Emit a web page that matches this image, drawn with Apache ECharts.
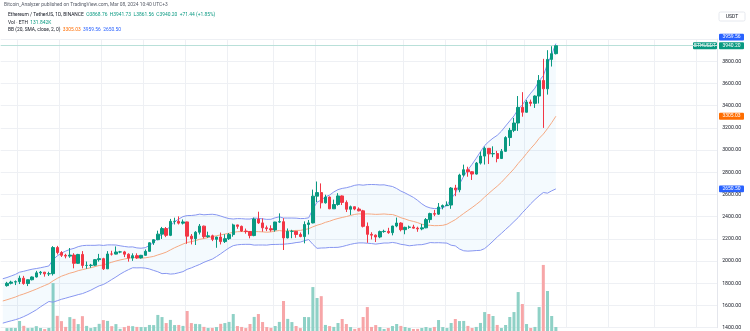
<!DOCTYPE html>
<html><head><meta charset="utf-8">
<script src="https://cdn.jsdelivr.net/npm/echarts@6/dist/echarts.min.js"></script>
<style>html,body{margin:0;padding:0;background:#fff}#c{width:750px;height:331px}</style>
</head><body><div id="c"></div>
<script>
// Categories: first slot (2023-10-28) only carries band values; candles 2023-10-29 .. 2024-03-08; then empty future slots
const monthRanges = [['2023-10',28,31],['2023-11',1,30],['2023-12',1,31],['2024-01',1,31],['2024-02',1,29],['2024-03',1,31],['2024-04',1,15]];
const dates = [];
monthRanges.forEach(([m,a,b])=>{for(let d=a;d<=b;d++)dates.push(m+'-'+String(d).padStart(2,'0'));});

const open = [null,
1779,1800,1811,
1815,1846,1798,1832,1857,1894,1900,1885,1887,2122,2077,2052,2045,2054,1980,2060,1961,1961,1963,2013,2022,1930,2064,2063,2082,2083,2062,2027,2049,2029,
2052,2088,2165,2193,2243,2293,2232,2358,2358,2342,2353,2225,2202,2260,2315,2220,2228,2196,2217,2176,2202,2239,2326,2313,2271,2267,2230,2379,2344,2300,2292,
2281,2352,2355,2209,2268,2268,2240,2221,2330,2344,2585,2617,2525,2577,2471,2510,2587,2529,2467,2490,2469,2453,2313,2241,2234,2217,2266,2268,2256,2316,2343,
2283,2304,2307,2297,2290,2300,2374,2428,2423,2487,2500,2505,2658,2642,2775,2823,2805,2784,2883,2946,3016,2966,2969,2924,2989,3113,3178,3244,3385,
3341,3433,3421,3487,3627,3552,3817,3868.76];
const high = [null,
1813,1823,1826,
1869,1867,1834,1862,1912,1911,1903,1904,2135,2137,2090,2066,2118,2071,2065,2090,1996,1975,2018,2065,2030,2090,2093,2132,2092,2092,2070,2070,2070,2056,
2105,2169,2196,2274,2308,2307,2380,2391,2403,2375,2355,2244,2270,2334,2320,2265,2238,2219,2257,2242,2253,2337,2328,2320,2293,2271,2392,2445,2385,2320,2322,
2354,2430,2387,2294,2282,2270,2258,2358,2370,2644,2717,2700,2598,2582,2554,2612,2592,2547,2500,2490,2484,2462,2348,2260,2240,2275,2283,2300,2318,2392,2350,
2310,2320,2327,2310,2335,2388,2436,2461,2523,2510,2538,2667,2687,2787,2869,2850,2810,2893,2986,3032,3017,3034,2993,3010,3125,3200,3290,3487,3522,
3452,3455,3493,3676,3822,3900,3936,3941.73];
const low = [null,
1770,1790,1784,
1793,1787,1775,1826,1852,1876,1860,1866,1870,2060,2037,2025,2030,1935,1975,1935,1931,1940,1955,1995,1920,1929,2050,2060,2071,2036,1995,2002,2020,2023,
2049,2086,2146,2188,2200,2216,2225,2330,2330,2330,2156,2150,2145,2240,2204,2210,2180,2120,2150,2163,2190,2220,2291,2263,2247,2205,2224,2335,2265,2270,2265,
2265,2345,2100,2205,2206,2210,2215,2160,2240,2340,2532,2474,2518,2468,2471,2499,2505,2442,2416,2458,2448,2303,2165,2195,2172,2206,2255,2246,2232,2305,2268,
2242,2291,2293,2264,2278,2296,2345,2405,2416,2466,2496,2471,2585,2620,2761,2760,2731,2780,2870,2870,2875,2936,2890,2920,2985,3037,3162,3173,3301,
3339,3395,3380,3420,3200,3500,3753,3861.56];
const close = [null,
1800,1811,1815,
1846,1798,1832,1857,1894,1900,1885,1887,2122,2077,2052,2045,2054,1980,2060,1961,1961,1963,2013,2022,1930,2064,2063,2082,2083,2062,2027,2049,2029,2052,
2088,2165,2193,2243,2293,2232,2358,2358,2342,2353,2225,2202,2260,2315,2220,2228,2196,2217,2176,2202,2239,2326,2313,2271,2267,2230,2379,2344,2300,2292,2281,
2352,2355,2209,2268,2268,2240,2221,2330,2344,2585,2617,2525,2577,2471,2510,2587,2529,2467,2490,2469,2453,2313,2241,2234,2217,2266,2268,2256,2316,2343,2283,
2304,2307,2297,2290,2300,2374,2428,2423,2487,2500,2505,2658,2642,2775,2823,2805,2784,2883,2946,3016,2966,2969,2924,2989,3113,3178,3244,3385,3341,
3433,3421,3487,3627,3552,3817,3869,3940.20];
// Volume, thousands of ETH
const volume = [null,
95,102,98,
330,170,96,104,160,99,64,101,1580,500,326,135,458,400,228,490,168,97,130,236,360,333,160,228,70,128,170,160,135,130,
128,200,195,530,460,262,366,196,200,168,660,262,234,226,136,98,101,130,236,262,300,560,164,134,97,232,465,
560,296,130,102,166,300,990,400,295,166,96,462,458,1450,1090,1150,200,162,135,265,396,230,130,68,100,462,790,134,196,130,66,
98,164,232,168,132,100,66,70,100,132,98,134,362,130,100,264,396,328,332,168,100,134,266,625,562,495,200,98,
198,462,625,1285,890,230,100,134,790,2180,1320,495,131.842];
// Bollinger Bands (20, SMA, close, 2)
const bbBasis = [1640.7,1651.7,1663.9,1676.3,1691.7,1704.0,1717.8,1732.7,1747.4,1764.1,
1780.2,1796.2,1822.1,1844.5,1864.0,1877.7,1891.2,1900.8,1913.7,1922.8,
1931.9,1940.0,1950.1,1960.5,1964.7,1978.0,1989.5,2000.8,2010.2,2018.3,
2025.4,2033.5,2028.9,2027.6,2029.4,2035.4,2042.4,2055.5,2067.2,2080.7,
2100.6,2120.3,2136.8,2153.3,2168.1,2175.0,2184.8,2196.5,2203.3,2211.6,
2220.1,2228.5,2235.8,2243.3,2250.9,2258.9,2264.9,2266.3,2265.0,2264.9,
2266.0,2265.3,2263.2,2260.1,2262.9,2270.4,2275.2,2269.9,2272.3,2274.3,
2276.5,2276.7,2284.4,2291.5,2308.8,2323.3,2333.9,2349.2,2359.4,2373.4,
2383.8,2393.1,2401.4,2411.3,2420.7,2425.8,2423.7,2425.3,2423.6,2421.0,
2422.3,2424.7,2421.0,2419.6,2407.5,2390.8,2379.7,2366.2,2357.5,2346.5,
2332.2,2324.4,2322.5,2319.1,2320.0,2322.4,2332.0,2352.8,2373.2,2401.1,
2429.0,2455.8,2482.2,2510.6,2540.7,2577.4,2610.5,2643.6,2674.9,2709.9,
2750.5,2790.7,2831.5,2879.6,2922.3,2969.0,3014.8,3056.2,3105.5,3144.3,
3194.0,3247.2,3305.03];
const bbUpper = [1841,1852,1866,1880,1900,1908,1918,1927,1933,1940,
1948,1956,2014,2047,2072,2090,2105,2115,2130,2139,
2142,2142,2142,2145,2141,2146,2146,2145,2138,2132,
2127,2128,2119,2116,2121,2141,2168,2208,2247,2273,
2319,2354,2379,2401,2410,2411,2415,2423,2417,2420,
2422,2417,2406,2393,2383,2379,2383,2382,2379,2379,
2388,2385,2381,2376,2377,2390,2399,2388,2388,2388,
2387,2383,2384,2390,2467,2531,2550,2579,2595,2623,
2644,2655,2661,2671,2683,2688,2684,2689,2690,2689,
2686,2687,2679,2672,2654,2631,2614,2594,2574,2547,
2516,2492,2479,2473,2474,2480,2502,2563,2609,2693,
2765,2822,2872,2927,2985,3041,3077,3108,3133,3170,
3217,3263,3308,3368,3408,3463,3513,3558,3624,3670,
3776,3861,3959.56];
const bbLower = [1441,1452,1462,1472,1484,1500,1518,1539,1561,1588,
1612,1636,1630,1643,1656,1666,1677,1687,1698,1707,
1722,1738,1758,1777,1789,1810,1834,1857,1882,1904,
1923,1940,1939,1940,1937,1929,1916,1904,1887,1889,
1883,1886,1895,1905,1926,1939,1955,1970,1989,2004,
2018,2041,2066,2093,2119,2139,2147,2150,2151,2151,
2144,2145,2145,2144,2149,2150,2151,2152,2156,2160,
2167,2171,2184,2194,2151,2115,2118,2119,2123,2123,
2124,2131,2141,2151,2159,2164,2164,2161,2158,2153,
2158,2163,2163,2168,2162,2151,2146,2138,2142,2147,
2148,2156,2167,2165,2166,2164,2162,2143,2137,2109,
2093,2090,2092,2095,2097,2113,2145,2180,2217,2250,
2285,2319,2356,2392,2436,2475,2517,2554,2588,2618,
2612,2633,2650.50];
const priceTicks = {min:1400, max:4000, interval:200};
const lastPrice = 3940.20;

const UP = '#089981', DOWN = '#F23645';
const candleData = open.map((o,i)=> o==null ? ['-','-','-','-'] : [o, close[i], low[i], high[i]]);
const volData = volume.map((v,i)=> v==null ? '-' : {value: v, itemStyle:{color: close[i] >= open[i] ? '#8fd1c6' : '#f7a6a8'}});
const bandWidth = bbUpper.map((u,i)=> u - bbLower[i]);

const chart = echarts.init(document.getElementById('c'), null, {renderer:'canvas'});
const gridL = 0.7, gridR = 32.8;
const option = {
  animation: false,
  grid: [
    {left: gridL, right: gridR, top: 39.1, bottom: 3.3},
    {left: gridL, right: gridR, top: 231, bottom: 0}
  ],
  xAxis: [
    {type:'category', data: dates, gridIndex:0, boundaryGap:true,
     axisLine:{show:false}, axisTick:{show:false}, axisLabel:{show:false},
     splitLine:{show:true, lineStyle:{color:'#eef0f4', width:1},
       interval:(idx, val)=>{ const d = +String(val).slice(8); return d===1||d===11||d===21; }}},
    {type:'category', data: dates, gridIndex:1, boundaryGap:true, show:false}
  ],
  yAxis: [
    {type:'value', gridIndex:0, position:'right', min:priceTicks.min, max:priceTicks.max, interval:priceTicks.interval,
     axisLine:{show:true, lineStyle:{color:'#e4e6ec'}}, axisTick:{show:false},
     axisLabel:{show:true, margin:5, color:'#131722', fontSize:5.2, fontFamily:'Roboto, sans-serif',
       showMaxLabel:false, formatter:v=>v.toFixed(2)},
     splitLine:{show:true, lineStyle:{color:'#eef0f4', width:1}}},
    {type:'value', gridIndex:1, min:0, max:3300, show:false, splitLine:{show:false}}
  ],
  series: [
    {name:'vol', type:'bar', xAxisIndex:1, yAxisIndex:1, data: volData, barWidth:'72%', z:1},
    {name:'bbBase', type:'line', data: bbLower, stack:'bb', symbol:'none', lineStyle:{opacity:0}, silent:true, z:2},
    {name:'bbFill', type:'line', data: bandWidth, stack:'bb', symbol:'none', lineStyle:{opacity:0},
     areaStyle:{color:'rgba(33,150,243,0.075)'}, silent:true, z:2},
    {name:'upper', type:'line', data: bbUpper, symbol:'none', lineStyle:{color:'#8796f0', width:1}, z:3},
    {name:'lower', type:'line', data: bbLower, symbol:'none', lineStyle:{color:'#8796f0', width:1}, z:3},
    {name:'basis', type:'line', data: bbBasis, symbol:'none', lineStyle:{color:'#f5a982', width:1}, z:3},
    {name:'lastPrice', type:'line', data: [], symbol:'none', z:4,
     markLine:{silent:true, symbol:['none','none'], label:{show:false},
       lineStyle:{color:'#b9e0d9', type:'solid', width:1, opacity:1},
       emphasis:{disabled:true},
       data:[{yAxis:lastPrice}]}},
    {name:'ETHUSDT', type:'candlestick', data: candleData, barWidth:'70%', z:5,
     itemStyle:{color:UP, color0:DOWN, borderColor:UP, borderColor0:DOWN, borderWidth:1}}
  ]
};
chart.setOption(option);

const py = v => chart.convertToPixel({yAxisIndex:0}, v);
function tag(x, yc, w, h, bg, txt){
  return {type:'group', children:[
    {type:'rect', shape:{x:x, y:yc-h/2, width:w, height:h, r:1}, style:{fill:bg}},
    {type:'text', x:x+w/2, y:yc, style:{text:txt, fill:'#fff', font:'5px Roboto, sans-serif', textAlign:'center', textVerticalAlign:'middle'}}
  ]};
}
const hdr = (x,y,rich,text)=>({type:'text', x:x, y:y, style:{text:text, rich:rich, font:'4.9px Roboto, sans-serif', fill:'#131722', textVerticalAlign:'middle'}});
const rich = {
  g:{fill:'#555a66', fontSize:4.9, fontFamily:'Roboto, sans-serif'},
  k:{fill:'#131722', fontSize:4.9, fontFamily:'Roboto, sans-serif'},
  gr:{fill:'#089981', fontSize:4.9, fontFamily:'Roboto, sans-serif'},
  o:{fill:'#FF6D00', fontSize:4.9, fontFamily:'Roboto, sans-serif'},
  b:{fill:'#2962FF', fontSize:4.9, fontFamily:'Roboto, sans-serif'}
};
const yLast = py(lastPrice), yUp = py(3959.56), yMid = py(3305.03), yLo = py(2650.50);
chart.setOption({graphic:[
  hdr(4, 4.5, rich, '{g|Bitcoin_Analyzer published on TradingView.com, Mar 08, 2024 10:40 UTC+3}'),
  hdr(8, 15, rich, '{k|Ethereum / TetherUS, 1D, BINANCE}  {gr|O3868.76  H3941.73  L3861.56  C3940.20  +71.44 (+1.85%)}'),
  hdr(8, 22.5, rich, '{k|Vol · ETH}  {gr|131.842K}'),
  hdr(8, 29.8, rich, '{k|BB (20, SMA, close, 2, 0)}  {o|3305.03}  {b|3959.56}  {b|2650.50}'),
  {type:'group', children:[
    {type:'rect', shape:{x:719, y:12, width:26, height:9, r:1.5}, style:{fill:'#fff', stroke:'#e0e3eb', lineWidth:0.8}},
    {type:'text', x:732, y:16.5, style:{text:'USDT', fill:'#131722', font:'5px Roboto, sans-serif', textAlign:'center', textVerticalAlign:'middle'}}
  ]},
  tag(719, yUp - 6.5, 25, 6.8, '#2962FF', '3959.56'),
  tag(693, yLast, 24, 6.8, '#089981', 'ETHUSDT'),
  tag(719, yLast, 25, 6.8, '#089981', '3940.20'),
  tag(719, yMid, 25, 6.8, '#FF6D00', '3305.03'),
  tag(719, yLo, 25, 6.8, '#2962FF', '2650.50')
]});
</script>
</body></html>
